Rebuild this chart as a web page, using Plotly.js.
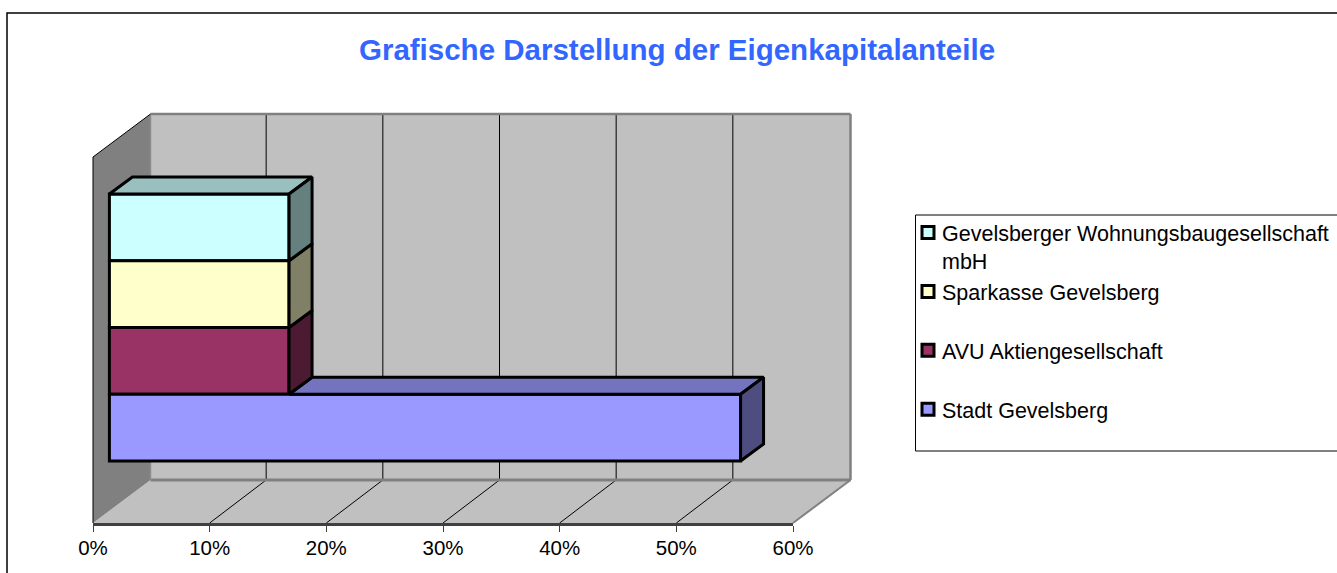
<!DOCTYPE html>
<html><head><meta charset="utf-8">
<script src="https://cdn.plot.ly/plotly-3.0.1.min.js"></script>
<style>html,body{margin:0;padding:0;background:#fff;overflow:hidden}</style>
</head><body><div id="chart" style="width:1337px;height:573px"></div>
<script>
// Data, top of the stack first (legend order)
const companies = ["Gevelsberger Wohnungsbaugesellschaft<br>mbH", "Sparkasse Gevelsberg", "AVU Aktiengesellschaft", "Stadt Gevelsberg"];
const shares = [15.4, 15.4, 15.4, 54.1];
const frontColors = ["#CCFFFF", "#FFFFCC", "#993366", "#9999FF"];
const topColors = ["#99BFBF", "#BFBF99", "#732640", "#7373BF"];
const sideColors = ["#668080", "#808066", "#4D1A33", "#4D4D80"];
const tickValues = [0, 10, 20, 30, 40, 50, 60];
const titleText = "Grafische Darstellung der Eigenkapitalanteile";

// Layout geometry
const W = 1337, H = 573, L = 93, R = 793, T = 114, B = 523;
const pxPerX = (R - L) / 60, rowPx = 66.75;
const pxPerY = rowPx;
const yMax = (B - T) / rowPx;
const wallDx = 57.5 / pxPerX, wallDy = 43 / pxPerY;   // back wall offset
const barDx = 23 / pxPerX, barDy = 17 / pxPerY;       // bar depth
const baseX = 16.4 / pxPerX;                          // 0% on the bars' front plane
const firstRow = (B - 461) / rowPx;
const rowCenter = i => firstRow + (companies.length - 1 - i) + 0.5;
const paperX = p => (p - L) / (R - L), paperY = p => (B - p) / (B - T);
const xp = v => v / 60, yp = v => v / yMax;

const traces = [];
// Front faces: real bar traces, they also supply the legend
companies.forEach((name, i) => traces.push({
  type: "bar", orientation: "h", name, y: [rowCenter(i)], x: [shares[i]], base: [baseX], width: [1],
  legendgroup: "g" + i, hoverinfo: "name+x",
  marker: { color: frontColors[i], line: { color: "#000", width: 3 } }
}));
// Top and side faces, bottom row first
for (let i = companies.length - 1; i >= 0; i--) {
  const x1 = baseX + shares[i], y0 = rowCenter(i) - 0.5, y1 = rowCenter(i) + 0.5;
  const face = (xs, ys, c) => traces.push({
    type: "scatter", mode: "lines", x: xs, y: ys, fill: "toself", fillcolor: c,
    line: { color: "#000", width: 3 }, showlegend: false, hoverinfo: "skip"
  });
  // only the part of the top not hidden by the row above
  const xa = i > 0 ? baseX + shares[i - 1] : baseX;
  if (x1 > xa) face([xa, xa + barDx, x1 + barDx, x1, xa], [y1, y1 + barDy, y1 + barDy, y1, y1], topColors[i]);
  face([x1, x1 + barDx, x1 + barDx, x1, x1], [y0, y0 + barDy, y1 + barDy, y1, y0], sideColors[i]);
}

const line = (x0, y0, x1, y1, color, width) => ({
  type: "line", xref: "paper", yref: "paper", x0: xp(x0), y0: yp(y0), x1: xp(x1), y1: yp(y1), layer: "below", line: { color, width }
});
const frontTop = yMax - wallDy;
const shapes = [
  // back wall
  { type: "rect", xref: "paper", yref: "paper", x0: xp(wallDx), x1: xp(60 + wallDx), y0: yp(wallDy), y1: 1, layer: "below", fillcolor: "#C0C0C0", line: { width: 0 } },
  // floor
  { type: "path", layer: "below", xref: "paper", yref: "paper", fillcolor: "#C0C0C0", line: { width: 0 },
    path: `M0,0 L1,0 L${xp(60 + wallDx)},${yp(wallDy)} L${xp(wallDx)},${yp(wallDy)} Z` },
  // left wall
  { type: "path", layer: "below", xref: "paper", yref: "paper", fillcolor: "#808080", line: { width: 0 },
    path: `M0,0 L0,${yp(frontTop)} L${xp(wallDx)},1 L${xp(wallDx)},${yp(wallDy)} Z` },
];
const gridShift = -1 / pxPerX;
tickValues.slice(1, -1).forEach(t => {
  shapes.push(line(t + wallDx + gridShift, wallDy, t + wallDx + gridShift, yMax, "#000", 1));
  shapes.push(line(t, 0, t + wallDx + gridShift, wallDy, "#000", 1));
});
shapes.push(
  line(wallDx, wallDy, 60 + wallDx, wallDy, "#808080", 3),
  line(60 + wallDx, wallDy, 60 + wallDx, yMax, "#808080", 2.5),
  line(wallDx, yMax, 60 + wallDx, yMax, "#808080", 2.5),
  line(60, 0, 60 + wallDx, wallDy, "#808080", 2),
  line(wallDx, wallDy, wallDx, yMax, "#8c8c8c", 1.5),
  line(0, 0, 0, frontTop, "#000", 1),
  line(0, frontTop, wallDx, yMax, "#000", 1),
  // outer chart frame
  { type: "path", xref: "paper", yref: "paper", layer: "below", line: { color: "#000", width: 1.5 },
    path: `M${paperX(7)},${paperY(H + 5)} L${paperX(7)},${paperY(13)} L${paperX(W + 5)},${paperY(13)}` },
  // legend frame
  { type: "path", xref: "paper", yref: "paper", layer: "below", fillcolor: "#fff", line: { color: "#000", width: 1 },
    path: `M${paperX(W + 5)},${paperY(215)} L${paperX(915.5)},${paperY(215)} L${paperX(915.5)},${paperY(451)} L${paperX(W + 5)},${paperY(451)}` }
);

const font = "Liberation Sans, Arial, sans-serif";
const legendLine = 28;
const layout = {
  width: W, height: H, showlegend: true, barmode: "overlay",
  paper_bgcolor: "#fff", plot_bgcolor: "rgba(0,0,0,0)", hovermode: false,
  margin: { l: L, r: W - R, t: T, b: H - B, pad: 0, autoexpand: false },
  font: { family: font, size: 20.5, color: "#000" },
  title: { text: "<b>" + titleText + "</b>", font: { family: font, size: 29.5, color: "#3366FF" }, x: 677 / W, xanchor: "center", y: 1 - 50 / H, yanchor: "middle" },
  xaxis: { range: [0, 60], tickvals: tickValues, ticktext: tickValues.map(t => t + "%"), showgrid: false, zeroline: false,
    showline: true, linecolor: "#404040", linewidth: 2.5, ticks: "outside", ticklen: 6, tickwidth: 1, tickcolor: "#404040",
    ticklabelstandoff: -1, tickfont: { family: font, size: 20.5, color: "#000" } },
  yaxis: { range: [0, yMax], visible: false, fixedrange: true },
  legend: { x: paperX(902), xanchor: "left", y: paperY(212), yanchor: "top", bgcolor: "rgba(0,0,0,0)", borderwidth: 0,
    tracegroupgap: 28, font: { family: font, size: 21.5, color: "#000" }, traceorder: "grouped" },
  shapes
};
Plotly.newPlot("chart", traces, layout, { displayModeBar: false, staticPlot: true }).then(gd => {
  // Excel-style legend: symbols closer to the text and on the first text line, entries evenly spaced
  gd.querySelectorAll(".legend .legendsymbols").forEach((s, i) =>
    s.setAttribute("transform", `translate(6,${i === 0 ? -legendLine / 2 : 0})`));
  gd.querySelectorAll(".legend g.groups").forEach((g, i) => {
    if (i === 0) return;
    const m = /translate\(\s*([-\d.]+)[ ,]+([-\d.]+)\s*\)/.exec(g.getAttribute("transform") || "");
    if (m) g.setAttribute("transform", `translate(${m[1]},${+m[2] - legendLine})`);
  });
});
</script></body></html>
